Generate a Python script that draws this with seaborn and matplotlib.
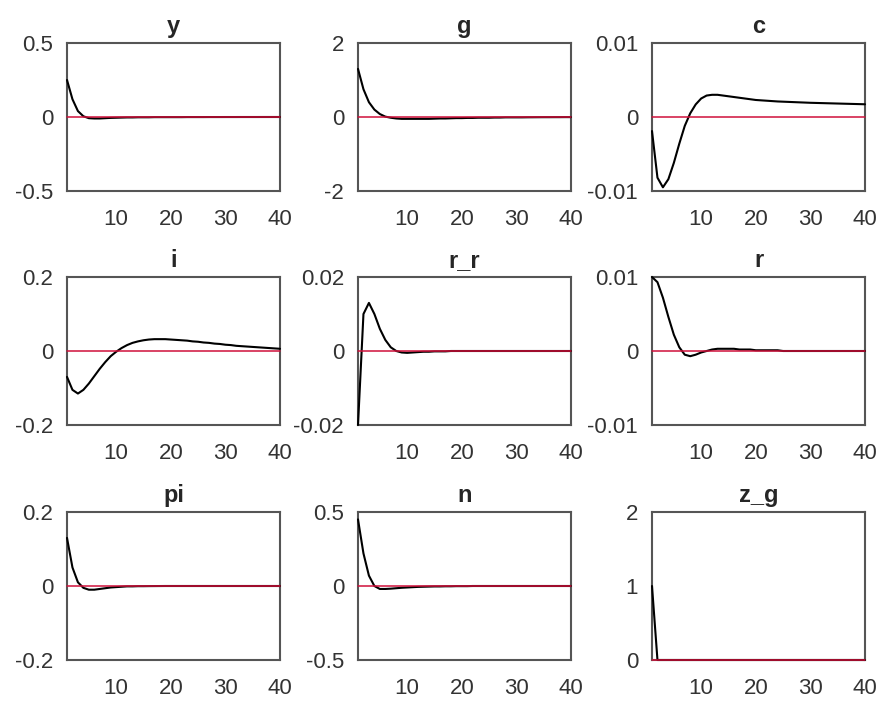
import pandas as pd
import matplotlib
matplotlib.use("Agg")
import matplotlib.pyplot as plt
import seaborn as sns

# impulse responses, horizon 1..40
periods = list(range(1, 41))

y = [0.25, 0.12, 0.04, 0.005, -0.008, -0.01, -0.01, -0.008, -0.006, -0.005,
     -0.004, -0.003, -0.003, -0.002, -0.002, -0.002, -0.001, -0.001, -0.001, -0.001,
     -0.001, -0.001, -0.0005, -0.0005, -0.0005, -0.0005, -0.0003, -0.0003, -0.0003, -0.0002,
     -0.0002, -0.0002, -0.0001, -0.0001, -0.0001, -0.0001, 0.0, 0.0, 0.0, 0.0]
g = [1.3, 0.75, 0.40, 0.2, 0.08, 0.01, -0.02, -0.04, -0.05, -0.05,
     -0.05, -0.05, -0.05, -0.05, -0.045, -0.04, -0.04, -0.035, -0.03, -0.03,
     -0.025, -0.025, -0.02, -0.02, -0.02, -0.015, -0.015, -0.01, -0.01, -0.01,
     -0.01, -0.008, -0.007, -0.006, -0.005, -0.005, -0.004, -0.004, -0.003, -0.003]
c = [-0.0019, -0.0082, -0.0095, -0.0084, -0.0062, -0.0036, -0.0012, 0.0005, 0.0017, 0.0025,
     0.0029, 0.0030, 0.0030, 0.0029, 0.0028, 0.0027, 0.0026, 0.0025, 0.0024, 0.0023,
     0.00225, 0.0022, 0.00215, 0.0021, 0.00207, 0.00204, 0.00201, 0.00198, 0.00195, 0.00192,
     0.0019, 0.00188, 0.00186, 0.00184, 0.00182, 0.0018, 0.00178, 0.00176, 0.00174, 0.00172]
i = [-0.07, -0.105, -0.115, -0.105, -0.088, -0.068, -0.048, -0.03, -0.014, -0.002,
     0.008, 0.016, 0.022, 0.026, 0.029, 0.031, 0.032, 0.032, 0.032, 0.031,
     0.030, 0.029, 0.028, 0.026, 0.025, 0.023, 0.022, 0.020, 0.019, 0.017,
     0.016, 0.014, 0.013, 0.012, 0.011, 0.010, 0.009, 0.008, 0.007, 0.006]
r_r = [-0.02, 0.010, 0.013, 0.010, 0.006, 0.003, 0.001, 0.0, -0.0004, -0.0005,
       -0.0004, -0.0003, -0.0002, -0.0002, -0.0001, -0.0001, -0.0001, 0.0, 0.0, 0.0,
       0.0, 0.0, 0.0, 0.0, 0.0, 0.0, 0.0, 0.0, 0.0, 0.0,
       0.0, 0.0, 0.0, 0.0, 0.0, 0.0, 0.0, 0.0, 0.0, 0.0]
r = [0.0100, 0.0093, 0.0072, 0.0046, 0.0022, 0.0005, -0.0005, -0.0007, -0.0005, -0.0002,
     0.0, 0.0002, 0.0003, 0.0003, 0.0003, 0.0003, 0.0002, 0.0002, 0.0002, 0.0001,
     0.0001, 0.0001, 0.0001, 0.0001, 0.0, 0.0, 0.0, 0.0, 0.0, 0.0,
     0.0, 0.0, 0.0, 0.0, 0.0, 0.0, 0.0, 0.0, 0.0, 0.0]
pi = [0.13, 0.05, 0.01, -0.005, -0.01, -0.01, -0.008, -0.006, -0.004, -0.003,
      -0.002, -0.001, -0.001, -0.0005, -0.0005, -0.0003, -0.0002, -0.0001, 0.0, 0.0,
      0.0, 0.0, 0.0, 0.0, 0.0, 0.0, 0.0, 0.0, 0.0, 0.0,
      0.0, 0.0, 0.0, 0.0, 0.0, 0.0, 0.0, 0.0, 0.0, 0.0]
n = [0.45, 0.22, 0.07, 0.0, -0.02, -0.02, -0.018, -0.015, -0.012, -0.01,
     -0.008, -0.006, -0.005, -0.004, -0.003, -0.003, -0.002, -0.002, -0.001, -0.001,
     -0.001, 0.0, 0.0, 0.0, 0.0, 0.0, 0.0, 0.0, 0.0, 0.0,
     0.0, 0.0, 0.0, 0.0, 0.0, 0.0, 0.0, 0.0, 0.0, 0.0]
z_g = [1.0, 0.0, 0.0, 0.0, 0.0, 0.0, 0.0, 0.0, 0.0, 0.0,
       0.0, 0.0, 0.0, 0.0, 0.0, 0.0, 0.0, 0.0, 0.0, 0.0,
       0.0, 0.0, 0.0, 0.0, 0.0, 0.0, 0.0, 0.0, 0.0, 0.0,
       0.0, 0.0, 0.0, 0.0, 0.0, 0.0, 0.0, 0.0, 0.0, 0.0]

names = ["y", "g", "c", "i", "r_r", "r", "pi", "n", "z_g"]
series = [y, g, c, i, r_r, r, pi, n, z_g]
ylims = [(-0.5, 0.5), (-2, 2), (-0.01, 0.01),
         (-0.2, 0.2), (-0.02, 0.02), (-0.01, 0.01),
         (-0.2, 0.2), (-0.5, 0.5), (0, 2)]
yticks = [[-0.5, 0, 0.5], [-2, 0, 2], [-0.01, 0, 0.01],
          [-0.2, 0, 0.2], [-0.02, 0, 0.02], [-0.01, 0, 0.01],
          [-0.2, 0, 0.2], [-0.5, 0, 0.5], [0, 1, 2]]
ylabels = [["-0.5", "0", "0.5"], ["-2", "0", "2"], ["-0.01", "0", "0.01"],
           ["-0.2", "0", "0.2"], ["-0.02", "0", "0.02"], ["-0.01", "0", "0.01"],
           ["-0.2", "0", "0.2"], ["-0.5", "0", "0.5"], ["0", "1", "2"]]

sns.set_theme(style="white")
plt.rcParams["font.family"] = ["Liberation Sans", "DejaVu Sans"]

W, H = 883, 704
fig = plt.figure(figsize=(W / 100, H / 100), dpi=100)
lefts = [67, 358, 652]
tops = [43, 277, 512]
aw, ah = 213, 148

for k, name in enumerate(names):
    row, col = divmod(k, 3)
    ax = fig.add_axes([lefts[col] / W, 1 - (tops[row] + ah) / H, aw / W, ah / H])
    df = pd.DataFrame({"t": periods, "v": series[k]})
    sns.lineplot(data=df, x="t", y="v", ax=ax, color="black", linewidth=1.5,
                 clip_on=False, zorder=3)
    zero = pd.DataFrame({"t": [periods[0], periods[-1]], "v": [0, 0]})
    sns.lineplot(data=zero, x="t", y="v", ax=ax, color="#d0103a", linewidth=1.1,
                 clip_on=False, zorder=4)
    ax.set_xlim(1, 40)
    ax.set_ylim(*ylims[k])
    ax.set_xticks([10, 20, 30, 40])
    ax.set_xticklabels(["10", "20", "30", "40"])
    ax.set_yticks(yticks[k])
    ax.set_yticklabels(ylabels[k])
    ax.set_xlabel("")
    ax.set_ylabel("")
    ax.set_title(name, fontsize=17, fontweight="bold", pad=7)
    ax.tick_params(axis="x", direction="in", length=0, pad=13, labelsize=16, colors="#333333")
    ax.tick_params(axis="y", direction="in", length=0, pad=10, labelsize=16, colors="#333333")
    for s in ax.spines.values():
        s.set_color("#555555")
        s.set_linewidth(1.5)

fig.savefig("out.png", dpi=100, facecolor="white")
